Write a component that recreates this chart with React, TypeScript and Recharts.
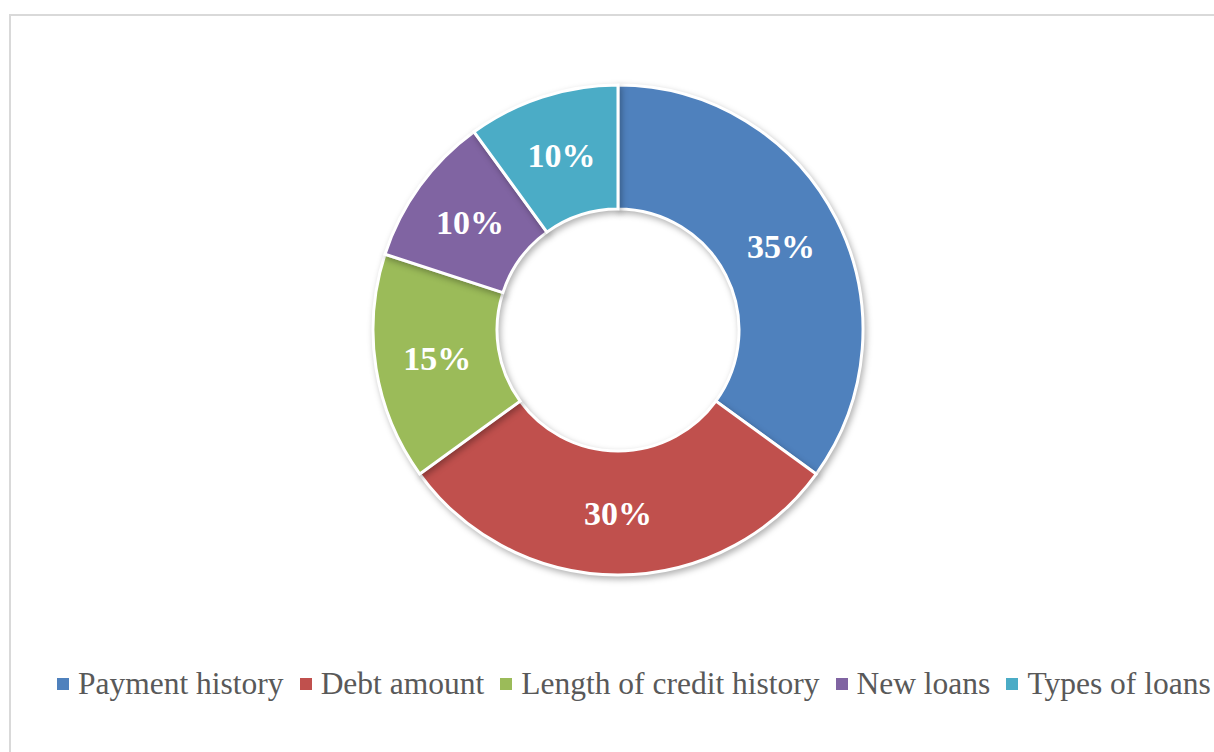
import { Cell, Legend, Pie, PieChart } from 'recharts';

const categories = ['Payment history', 'Debt amount', 'Length of credit history', 'New loans', 'Types of loans'];
const shares = [35, 30, 15, 10, 10];
const colors = ['#4F81BD', '#C0504D', '#9BBB59', '#8064A2', '#4BACC6'];

const data = categories.map((name, i) => ({ name, value: shares[i] }));

const RAD = Math.PI / 180;
const serif = "'Liberation Serif', 'Times New Roman', serif";

function renderLabel(props: any) {
  const { cx, cy, midAngle, innerRadius, outerRadius, value } = props;
  const r = (innerRadius + outerRadius) / 2;
  const x = cx + r * Math.cos(-midAngle * RAD);
  const y = cy + r * Math.sin(-midAngle * RAD);
  return (
    <text
      x={x}
      y={y}
      fill="#ffffff"
      textAnchor="middle"
      dominantBaseline="central"
      fontFamily={serif}
      fontWeight="bold"
      fontSize={34}
    >
      {`${value}%`}
    </text>
  );
}

// legend built from our own arrays so the order stays as in the data
function LegendContent() {
  return (
    <div
      style={{
        display: 'flex',
        alignItems: 'center',
        whiteSpace: 'nowrap',
        paddingLeft: 57,
        fontFamily: serif,
        fontSize: 31.5,
        color: '#595959',
      }}
    >
      {categories.map((name, i) => (
        <span key={name} style={{ display: 'inline-flex', alignItems: 'center', marginRight: 16 }}>
          <span style={{ width: 12, height: 12, background: colors[i], marginRight: 9, display: 'inline-block' }} />
          {name}
        </span>
      ))}
    </div>
  );
}

export default function App() {
  return (
    <div style={{ position: 'fixed', left: 0, top: 0, width: 1214, height: 752, background: '#fff', overflow: 'hidden' }}>
      <div
        style={{
          position: 'absolute',
          left: 9,
          top: 14,
          width: 1300,
          height: 800,
          border: '2px solid #d9d9d9',
          boxSizing: 'border-box',
        }}
      />
      <div style={{ position: 'absolute', left: 0, top: 0 }}>
        <PieChart width={1214} height={752} margin={{ top: 0, right: 0, bottom: 0, left: 0 }}>
          <Pie
            data={data}
            dataKey="value"
            nameKey="name"
            cx={618}
            cy={330}
            innerRadius={121}
            outerRadius={245}
            startAngle={90}
            endAngle={-270}
            stroke="#ffffff"
            strokeWidth={3}
            label={renderLabel}
            labelLine={false}
            isAnimationActive={false}
            style={{ filter: 'drop-shadow(2px 3px 3px rgba(0,0,0,0.3))' }}
          >
            {data.map((d, i) => (
              <Cell key={d.name} fill={colors[i]} />
            ))}
          </Pie>
          <Legend
            content={<LegendContent />}
            wrapperStyle={{ position: 'absolute', left: 0, top: 666, width: 1214 }}
          />
        </PieChart>
      </div>
    </div>
  );
}
